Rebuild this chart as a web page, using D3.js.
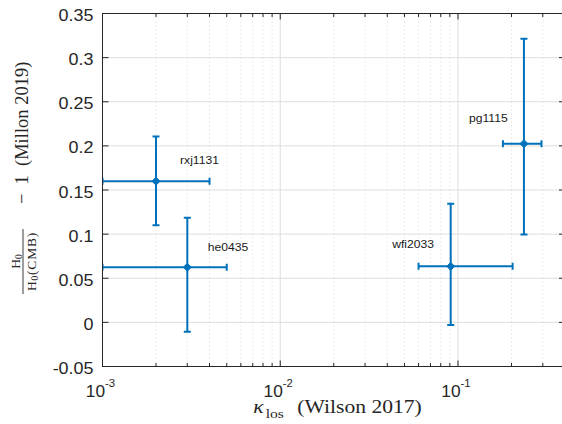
<!DOCTYPE html>
<html>
<head>
<meta charset="utf-8">
<script src="https://cdn.jsdelivr.net/npm/d3@7"></script>
<style>
  html, body { margin: 0; padding: 0; background: #fff; }
  svg { display: block; }
</style>
</head>
<body>
<svg id="chart" width="562" height="424"></svg>
<script>
// ---- data ----
const lenses   = ["rxj1131", "he0435", "wfi2033", "pg1115"];
const kappa    = [0.002, 0.003, 0.091, 0.235];
const kappaLo  = [0.001, 0.001, 0.060, 0.179];
const kappaHi  = [0.004, 0.005, 0.203, 0.295];
const h0Ratio  = [0.160, 0.0625, 0.0635, 0.2025];
const h0Lo     = [0.110, -0.0105, -0.003, 0.0995];
const h0Hi     = [0.2105, 0.1185, 0.1345, 0.3215];
const yTicks   = [-0.05, 0, 0.05, 0.1, 0.15, 0.2, 0.25, 0.3, 0.35];
const yTickLabels = ["-0.05", "0", "0.05", "0.1", "0.15", "0.2", "0.25", "0.3", "0.35"];
const xTickExps = [-3, -2, -1];
const xDomain = [0.001, 0.4];
const yDomain = [-0.05, 0.35];

// ---- layout ----
const L = 102.5, R = 565, T = 13.5, B = 366.5;
const blue = "#0072BD", axisCol = "#262626";
const SX = 1.15; // horizontal stretch of the reference's text
const svg = d3.select("#chart");
const x = d3.scaleLog().domain(xDomain).range([L, R]);
const y = d3.scaleLinear().domain(yDomain).range([B, T]);

const minor = [];
for (let e = -3; e <= -1; e++) for (let m = 2; m <= 9; m++) {
  const v = m * Math.pow(10, e);
  if (v <= xDomain[1]) minor.push(v);
}
const major = xTickExps.map(e => Math.pow(10, e));

// grid
const grid = svg.append("g");
grid.selectAll(".hg").data(yTicks).join("line")
  .attr("x1", L).attr("x2", R).attr("y1", d => y(d)).attr("y2", d => y(d))
  .attr("stroke", "#dedede").attr("stroke-width", 1);
grid.selectAll(".vmin").data(minor).join("line")
  .attr("x1", d => x(d)).attr("x2", d => x(d)).attr("y1", T).attr("y2", B)
  .attr("stroke", "#cfcfcf").attr("stroke-width", 0.8).attr("stroke-dasharray", "1,3");
grid.selectAll(".vmaj").data(major).join("line")
  .attr("x1", d => x(d)).attr("x2", d => x(d)).attr("y1", T).attr("y2", B)
  .attr("stroke", "#dedede").attr("stroke-width", 1);

svg.append("clipPath").attr("id", "clip").append("rect")
  .attr("x", L).attr("y", T).attr("width", R - L).attr("height", B - T);

// error bars
const idx = d3.range(lenses.length);
const eb = svg.append("g").attr("clip-path", "url(#clip)")
  .attr("stroke", blue).attr("stroke-width", 2).attr("fill", "none");
const cap = 3.5;
idx.forEach(i => {
  const cx = x(kappa[i]), cy = y(h0Ratio[i]);
  const x0 = x(kappaLo[i]), x1 = x(kappaHi[i]);
  const y0 = y(h0Lo[i]), y1 = y(h0Hi[i]);
  eb.append("line").attr("x1", cx).attr("x2", cx).attr("y1", y0).attr("y2", y1);
  eb.append("line").attr("x1", cx - cap).attr("x2", cx + cap).attr("y1", y0).attr("y2", y0);
  eb.append("line").attr("x1", cx - cap).attr("x2", cx + cap).attr("y1", y1).attr("y2", y1);
  eb.append("line").attr("x1", x0).attr("x2", x1).attr("y1", cy).attr("y2", cy);
  eb.append("line").attr("x1", x0).attr("x2", x0).attr("y1", cy - cap).attr("y2", cy + cap);
  eb.append("line").attr("x1", x1).attr("x2", x1).attr("y1", cy - cap).attr("y2", cy + cap);
  const s = 4;
  eb.append("path").attr("d", `M${cx},${cy - s}L${cx + s},${cy}L${cx},${cy + s}L${cx - s},${cy}Z`)
    .attr("fill", blue).attr("stroke", blue).attr("stroke-width", 1);
});

// point labels (offsets from point in px)
const labelOff = [[24, -17], [20.5, -16], [-58.5, -18.5], [-55, -22]];
svg.append("g").selectAll("text").data(idx).join("text")
  .attr("transform", i => `translate(${x(kappa[i]) + labelOff[i][0]},${y(h0Ratio[i]) + labelOff[i][1]}) scale(1.04,1)`)
  .attr("font-family", "Liberation Sans, Arial, sans-serif")
  .attr("font-size", 11.7).attr("fill", "#1a1a1a")
  .text(i => lenses[i]);

// axes box and ticks
const ax = svg.append("g").attr("stroke", axisCol).attr("stroke-width", 1).attr("fill", "none");
ax.append("rect").attr("x", L).attr("y", T).attr("width", R - L).attr("height", B - T);
yTicks.forEach(v => {
  ax.append("line").attr("x1", L).attr("x2", L + 6).attr("y1", y(v)).attr("y2", y(v));
  ax.append("line").attr("x1", R).attr("x2", R - 6).attr("y1", y(v)).attr("y2", y(v));
});
major.forEach(v => {
  ax.append("line").attr("x1", x(v)).attr("x2", x(v)).attr("y1", B).attr("y2", B - 6);
  ax.append("line").attr("x1", x(v)).attr("x2", x(v)).attr("y1", T).attr("y2", T + 6);
});
minor.forEach(v => {
  ax.append("line").attr("x1", x(v)).attr("x2", x(v)).attr("y1", B).attr("y2", B - 3.5);
  ax.append("line").attr("x1", x(v)).attr("x2", x(v)).attr("y1", T).attr("y2", T + 3.5);
});

// y tick labels
svg.append("g").selectAll("text").data(yTicks).join("text")
  .attr("transform", d => `translate(${L - 9},${y(d) + 7.6}) scale(${SX},1)`)
  .attr("text-anchor", "end")
  .attr("font-family", "Liberation Sans, Arial, sans-serif")
  .attr("font-size", 15.6).attr("fill", axisCol)
  .text((d, i) => yTickLabels[i]);

// x tick labels 10^e
const xt = svg.append("g").selectAll("text").data(xTickExps).join("text")
  .attr("transform", d => `translate(${x(Math.pow(10, d)) - 2},396.7) scale(1.08,1)`)
  .attr("text-anchor", "middle")
  .attr("font-family", "Liberation Sans, Arial, sans-serif")
  .attr("font-size", 16).attr("fill", axisCol);
xt.append("tspan").text("10");
xt.append("tspan").attr("font-size", 10.5).attr("dy", -9.7).text(d => String(d));

// x label
const xl = svg.append("text").attr("transform", "translate(253.3,413.3) scale(1.2,1)")
  .attr("font-family", "Liberation Serif, Times New Roman, serif")
  .attr("font-size", 18).attr("fill", axisCol);
xl.append("tspan").attr("x", 0).attr("font-style", "italic").text("κ");
xl.append("tspan").attr("x", 10.3).attr("font-size", 13).attr("dy", 5).text("los");
xl.append("tspan").attr("x", 36.7).attr("dy", -5).text("(Wilson 2017)");

// y label (rotated)
const yl = svg.append("g").attr("transform", "translate(27.5,0) rotate(-90)")
  .attr("font-family", "Liberation Serif, Times New Roman, serif").attr("fill", axisCol);
const fc = -261.5;
const num = yl.append("text").attr("x", fc).attr("y", -7.5).attr("text-anchor", "middle").attr("font-size", 13.5);
num.append("tspan").text("H");
num.append("tspan").attr("font-size", 9.5).attr("dy", 2).text("0");
const den = yl.append("text").attr("x", fc).attr("y", 8.5).attr("text-anchor", "middle")
  .attr("font-size", 13.5).attr("letter-spacing", 0.8);
den.append("tspan").text("H");
den.append("tspan").attr("font-size", 9.5).attr("dy", 2).text("0");
den.append("tspan").attr("dy", -2).text("(CMB)");
yl.append("line").attr("x1", -294).attr("x2", -229).attr("y1", -4.5).attr("y2", -4.5)
  .attr("stroke", axisCol).attr("stroke-width", 0.9);
const yt = yl.append("text").attr("y", 0).attr("font-size", 18.5);
yt.append("tspan").attr("x", -204).text("\u2212");
yt.append("tspan").attr("x", -184.5).text("1");
yt.append("tspan").attr("x", -166).text("(Millon 2019)");
</script>
</body>
</html>
